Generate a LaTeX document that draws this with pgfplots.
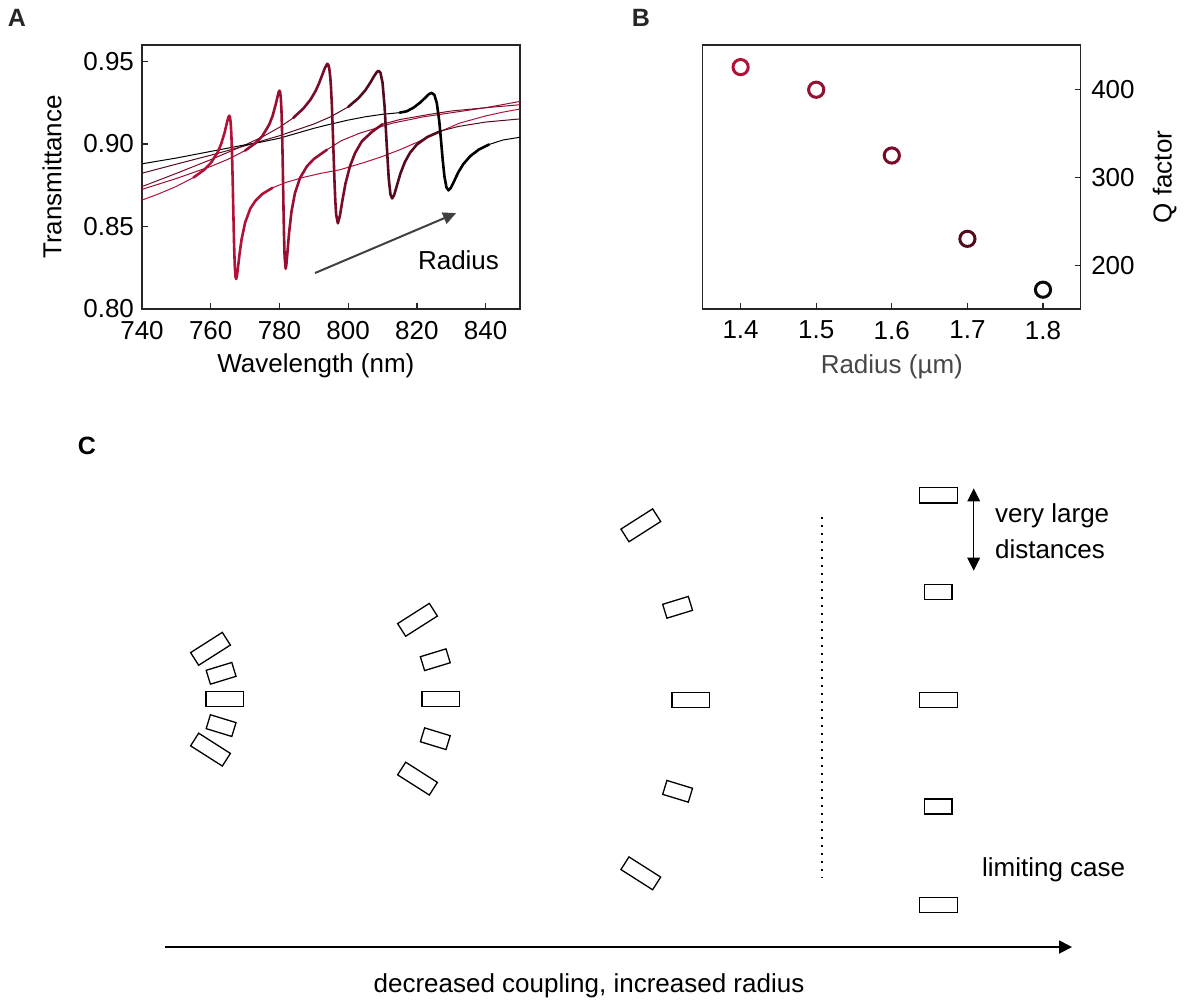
\documentclass[border=0pt]{standalone}
\usepackage{fontspec}
\setmainfont{Liberation Sans}
\usepackage{pgfplots}
\pgfplotsset{compat=1.18}
\usepackage{pgfplotstable}
\usetikzlibrary{arrows.meta}
\definecolor{cA}{HTML}{B21238}
\definecolor{cB}{HTML}{980F32}
\definecolor{cC}{HTML}{7A0C29}
\definecolor{cD}{HTML}{540B1D}
\definecolor{cE}{HTML}{000000}
\definecolor{mA}{HTML}{B21238}
\definecolor{mB}{HTML}{941030}
\definecolor{mC}{HTML}{780C28}
\definecolor{mD}{HTML}{520C1C}
\definecolor{mE}{HTML}{0A0A0A}
\newcommand{\fs}{\fontsize{13pt}{18pt}\selectfont}

\pgfplotstableread{
x y
740 0.8660
745 0.8699
750 0.8743
755 0.8797
758 0.8842
760 0.8884
762 0.8949
763 0.8998
764 0.9066
764.5 0.9110
765 0.9153
765.2 0.9166
765.4 0.9171
765.6 0.9163
765.8 0.9131
766.0 0.9061
766.2 0.8941
766.4 0.8769
766.6 0.8570
766.8 0.8388
767.0 0.8260
767.2 0.8196
767.4 0.8182
767.6 0.8197
767.8 0.8228
768.4 0.8336
769 0.8424
770 0.8523
771.5 0.8608
773 0.8656
775 0.8697
778 0.8735
782 0.8768
787 0.8798
792 0.8822
797.6 0.8844
805 0.8890
810 0.8925
815 0.8965
820 0.9010
825 0.9060
832.5 0.9127
840 0.9170
845 0.9193
850 0.9212
}\curveA

\pgfplotstableread{
x y
740 0.8725
750 0.8791
760 0.8864
765 0.8907
770 0.8960
773 0.9005
775 0.9048
777 0.9117
778 0.9170
779 0.9247
779.5 0.9293
779.75 0.9313
780.0 0.9323
780.2 0.9314
780.4 0.9278
780.6 0.9196
780.8 0.9046
781.0 0.8829
781.17 0.8620
781.3 0.8474
781.5 0.8316
781.8 0.8244
782.0 0.8267
782.2 0.8312
782.8 0.8461
783.5 0.8590
784.5 0.8702
786 0.8795
788 0.8865
790 0.8909
793.8 0.8965
798 0.9020
803.4 0.9066
813 0.9127
822 0.9165
832.5 0.9197
840 0.9220
850 0.9258
}\curveB

\pgfplotstableread{
x y
740 0.8742
750 0.8822
760 0.8905
770 0.8994
775 0.9043
780 0.9101
784 0.9158
787 0.9216
789 0.9268
790.5 0.9321
791.5 0.9367
792.5 0.9421
793.2 0.9460
793.9 0.9486
794.2 0.9481
794.5 0.9457
794.8 0.9403
795.0 0.9342
795.25 0.9236
795.5 0.9096
795.75 0.8938
796.0 0.8783
796.25 0.8657
796.5 0.8572
797.0 0.8519
797.6 0.8566
798.3 0.8656
799.2 0.8759
800.5 0.8864
802 0.8945
804 0.9017
807 0.9075
810 0.9120
815 0.9148
822.9 0.9177
830 0.9200
840 0.9220
850 0.9238
}\curveC

\pgfplotstableread{
x y
740 0.8823
750 0.8878
760 0.8932
770 0.8989
780 0.9050
790 0.9121
795 0.9166
800 0.9225
803 0.9278
805 0.9326
806.5 0.9374
807.5 0.9410
808.3 0.9435
808.8 0.9444
809.4 0.9432
810.0 0.9371
810.6 0.9225
811.2 0.9001
811.8 0.8791
812.3 0.8695
812.8 0.8670
813.4 0.8692
814.2 0.8750
815.2 0.8821
816.5 0.8891
818 0.8947
820 0.8997
823 0.9042
827 0.9079
832 0.9106
840 0.9133
850 0.9152
}\curveD

\pgfplotstableread{
x y
740 0.8880
750 0.8915
760 0.8955
770 0.8995
774.3 0.9010
780 0.9035
790 0.9095
794 0.9116
800 0.9145
805 0.9165
810 0.9180
815 0.9190
817 0.9198
819 0.9220
821 0.9252
822.5 0.9282
823.5 0.9302
824.3 0.9310
825.1 0.9297
825.8 0.9247
826.5 0.9139
827.0 0.9026
827.5 0.8905
828.0 0.8805
828.6 0.8737
829.2 0.8719
829.9 0.8735
830.8 0.8773
832 0.8827
833.5 0.8878
835.5 0.8926
838 0.8966
841 0.8997
845 0.9024
850 0.9041
}\curveE

\pgfplotsset{
  panel/.style={
    scale only axis, width=189pt, height=132pt,
    axis line style={line width=0.6pt, black!85},
    tick style={line width=0.6pt, black!85},
    major tick length=3pt, tick align=inside,
    tick label style={font=\fs},
    label style={font=\fs},
    /pgf/number format/assume math mode=true,
  },
  thin/.style={line width=0.5pt, line join=round},
  thick/.style={line width=1.3pt, line join=round, line cap=round},
  rect/.style={black, line width=0.65pt, line join=miter},
}

\begin{document}
\begin{tikzpicture}
\useasboundingbox (0pt,0pt) rectangle (593.5pt,-503pt);

% ---------------- Panel A ----------------
\begin{axis}[panel, at={(71pt,-154.5pt)}, anchor=south west,
  xmin=740, xmax=850, ymin=0.80, ymax=0.96,
  xtick={740,760,780,800,820,840}, ytick={0.80,0.85,0.90,0.95},
  xtick pos=left, ytick pos=left,
  yticklabel style={xshift=-0.5pt, /pgf/number format/fixed, /pgf/number format/fixed zerofill, /pgf/number format/precision=2},
  xticklabel style={yshift=-2.5pt},
  xlabel={Wavelength (nm)}, ylabel={Transmittance},
  xlabel style={at={(axis description cs:0.46,-0.216)}, anchor=center},
  ylabel style={at={(axis description cs:-0.238,0.5)}, anchor=center},
]
\addplot[cA, thin] table {\curveA};
\addplot[cB, thin] table {\curveB};
\addplot[cC, thin] table {\curveC};
\addplot[cD, thin] table {\curveD};
\addplot[cE, thin] table {\curveE};
\addplot[cA, thick, restrict x to domain=752:779] table {\curveA};
\addplot[cB, thick, restrict x to domain=767:795] table {\curveB};
\addplot[cC, thick, restrict x to domain=783:811] table {\curveC};
\addplot[cD, thick, restrict x to domain=797:827] table {\curveD};
\addplot[cE, thick, restrict x to domain=813:844] table {\curveE};
\addplot[black!75, line width=1pt, -{Triangle[length=6.5pt,width=6pt]}] coordinates {(790.35,0.8218) (831.4,0.8581)};
\node[font=\fs] at (axis cs:832.1,0.8298) {Radius};
\end{axis}

% ---------------- Panel B ----------------
\begin{axis}[panel, at={(351.4pt,-154.5pt)}, anchor=south west,
  xmin=1.35, xmax=1.85, ymin=150, ymax=451,
  xtick={1.4,1.5,1.6,1.7,1.8}, ytick={200,300,400},
  xtick pos=left, ytick pos=right, yticklabel pos=right,
  xticklabel style={yshift=-2.5pt, /pgf/number format/fixed, /pgf/number format/fixed zerofill, /pgf/number format/precision=1},
  yticklabel style={xshift=1.7pt},
  xlabel={Radius (µm)}, ylabel={Q factor},
  xlabel style={at={(axis description cs:0.5,-0.218)}, anchor=center, text=black!72},
  ylabel style={at={(axis description cs:1.222,0.5)}, anchor=center},
  clip=false,
]
\addplot[only marks, mark=o, mark size=3.8pt, line width=1.5pt, color=mA] coordinates {(1.4,425.8)};
\addplot[only marks, mark=o, mark size=3.8pt, line width=1.5pt, color=mB] coordinates {(1.5,400)};
\addplot[only marks, mark=o, mark size=3.8pt, line width=1.5pt, color=mC] coordinates {(1.6,325)};
\addplot[only marks, mark=o, mark size=3.8pt, line width=1.5pt, color=mD] coordinates {(1.7,230)};
\addplot[only marks, mark=o, mark size=3.8pt, line width=1.5pt, color=mE] coordinates {(1.8,172)};
\end{axis}

% ---------------- Panel C (pixel grid overlay) ----------------
\begin{axis}[at={(0pt,-503pt)}, anchor=south west, scale only axis,
  width=593.5pt, height=503pt, xmin=0, xmax=1187, ymin=0, ymax=1006,
  y dir=reverse, hide axis, clip=false]
% group 1
\addplot[rect] coordinates {(190.61,652.58) (222.33,632.37) (230.39,645.03) (198.67,665.23)} --cycle;
\addplot[rect] coordinates {(206.17,670.29) (231.79,662.45) (236.03,676.32) (210.41,684.15)} --cycle;
\addplot[rect] coordinates {(205.95,691.7) (243.65,691.7) (243.65,706.7) (205.95,706.7)} --cycle;
\addplot[rect] coordinates {(206.17,728.62) (231.79,736.45) (236.03,722.59) (210.41,714.75)} --cycle;
\addplot[rect] coordinates {(190.61,745.83) (222.33,766.03) (230.39,753.38) (198.67,733.17)} --cycle;
% group 2
\addplot[rect] coordinates {(397.61,623.58) (429.33,603.37) (437.39,616.03) (405.67,636.23)} --cycle;
\addplot[rect] coordinates {(420.37,656.69) (445.99,648.85) (450.23,662.72) (424.61,670.55)} --cycle;
\addplot[rect] coordinates {(421.95,691.7) (459.65,691.7) (459.65,706.7) (421.95,706.7)} --cycle;
\addplot[rect] coordinates {(420.37,741.72) (445.99,749.55) (450.23,735.69) (424.61,727.85)} --cycle;
\addplot[rect] coordinates {(397.61,774.83) (429.33,795.03) (437.39,782.38) (405.67,762.17)} --cycle;
% group 3
\addplot[rect] coordinates {(620.91,529.08) (652.63,508.87) (660.69,521.53) (628.97,541.73)} --cycle;
\addplot[rect] coordinates {(662.67,604.29) (688.29,596.45) (692.53,610.32) (666.91,618.15)} --cycle;
\addplot[rect] coordinates {(671.95,692.5) (709.65,692.5) (709.65,707.5) (671.95,707.5)} --cycle;
\addplot[rect] coordinates {(662.67,794.32) (688.29,802.15) (692.53,788.29) (666.91,780.45)} --cycle;
\addplot[rect] coordinates {(620.91,869.53) (652.63,889.73) (660.69,877.08) (628.97,856.87)} --cycle;
% group 4
\addplot[rect] coordinates {(919.3,487.65) (957.3,487.65) (957.3,502.95) (919.3,502.95)} --cycle;
\addplot[rect] coordinates {(924.35,584.3) (952.05,584.3) (952.05,599.3) (924.35,599.3)} --cycle;
\addplot[rect] coordinates {(919.3,692.35) (957.3,692.35) (957.3,707.65) (919.3,707.65)} --cycle;
\addplot[rect] coordinates {(924.35,799.0) (952.05,799.0) (952.05,814.0) (924.35,814.0)} --cycle;
\addplot[rect] coordinates {(919.3,897.35) (957.3,897.35) (957.3,912.65) (919.3,912.65)} --cycle;
% dotted divider
\addplot[black, line width=1pt, dash pattern=on 1pt off 3pt] coordinates {(821.7,517.3) (821.7,878.3)};
% double arrow
\addplot[black, line width=0.7pt, {Triangle[length=6.5pt,width=6.3pt]}-{Triangle[length=6.5pt,width=6.3pt]}] coordinates {(973.7,488.3) (973.7,570.7)};
% bottom arrow
\addplot[black, line width=0.9pt, -{Triangle[length=6.5pt,width=6.5pt]}] coordinates {(165,947) (1072,947)};
\node[font=\fs, anchor=west, align=left] at (axis cs:988,531.3) {very large\\distances};
\node[font=\fs, anchor=west] at (axis cs:975,869.3) {limiting case};
\node[font=\fs] at (axis cs:589,986) {decreased coupling, increased radius};
% panel letters
\node[font=\fontsize{12.5pt}{14pt}\selectfont\bfseries, text=black!85] at (axis cs:17,18) {A};
\node[font=\fontsize{12.5pt}{14pt}\selectfont\bfseries, text=black!85] at (axis cs:641,18) {B};
\node[font=\fontsize{12.5pt}{14pt}\selectfont\bfseries] at (axis cs:87,446) {C};
\end{axis}
\end{tikzpicture}
\end{document}
